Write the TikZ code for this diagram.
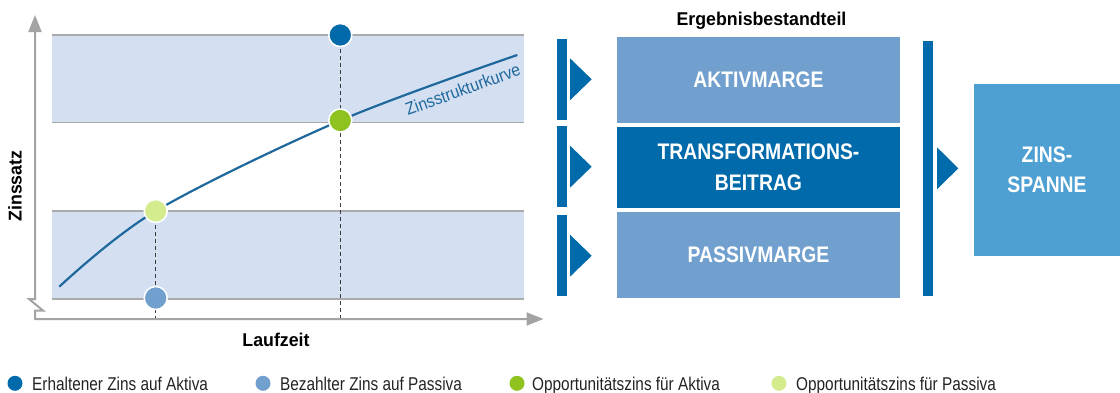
\documentclass[tikz,border=0pt]{standalone}
\usepackage{fontspec}
\setmainfont{Liberation Sans}
\newfontfamily\condfont[FakeStretch=0.83]{Liberation Sans}
\newfontfamily\labelfont[FakeStretch=0.96]{Liberation Sans}
\newfontfamily\boxfont[FakeStretch=0.86]{Liberation Sans}
\newfontfamily\curvefont[FakeStretch=0.9]{Liberation Sans}
\usetikzlibrary{arrows.meta}

\definecolor{darkblue}{RGB}{0,106,170}
\definecolor{midblue}{RGB}{114,160,206}
\definecolor{zinsblue}{RGB}{77,160,209}
\definecolor{oppgreen}{RGB}{141,194,31}
\definecolor{lightgreen}{RGB}{212,236,142}
\definecolor{bandfill}{RGB}{212,224,242}
\definecolor{curveblue}{RGB}{31,104,156}
\definecolor{axisgray}{RGB}{163,163,163}
\definecolor{bandline}{RGB}{170,170,170}
\definecolor{dashgray}{RGB}{60,60,60}
\definecolor{legendtext}{RGB}{35,35,35}

\begin{document}
\begin{tikzpicture}[x=1pt,y=-1pt,
  band/.style={fill=bandfill},
  bandrule/.style={draw=bandline,line width=1.5pt},
  axis/.style={draw=axisgray,line width=2pt,line join=miter,
    {Triangle[length=17pt,width=13pt]}-{Triangle[length=17pt,width=13pt]}},
  dashline/.style={draw=dashgray,line width=1.2pt,dash pattern=on 4pt off 3pt},
  curve/.style={draw=curveblue,line width=2.2pt},
  dot/.style={circle,draw=white,line width=1.5pt,minimum size=23pt,inner sep=0pt},
  legdot/.style={circle,minimum size=15pt,inner sep=0pt},
  legtext/.style={anchor=base west,text=legendtext,inner sep=0pt,
    font=\condfont\fontsize{18.5}{20}\selectfont},
  axlabel/.style={inner sep=0pt,font=\labelfont\bfseries\fontsize{18.5}{20}\selectfont},
  box/.style={rectangle,inner sep=0pt,text=white,align=center,
    font=\boxfont\bfseries\fontsize{22.5}{31.6}\selectfont},
  bluebar/.style={fill=darkblue},
  pointer/.style={fill=darkblue}]

\useasboundingbox (0,0) rectangle (1120,392);

% ---------- chart: shaded bands ----------
\fill[band] (52,35) rectangle (523.7,122.7);
\fill[band] (52,211) rectangle (523.7,299);
\draw[bandrule] (52,35) -- (523.7,35);
\draw[bandrule] (52,122.7) -- (523.7,122.7);
\draw[bandrule] (52,211) -- (523.7,211);
\draw[bandrule] (52,299) -- (523.7,299);

% ---------- reference points ----------
\coordinate (o) at (35,319);
\coordinate (ytip) at (35,15);
\coordinate (xtip) at (543.5,319);
\coordinate (pA) at (340.3,35);
\coordinate (pG) at (340.3,120.5);
\coordinate (pL) at (155.7,211);
\coordinate (pP) at (155.7,298);
\coordinate (c0) at (59.3,286.7);
\coordinate (c1) at (517.3,55);

% dashed drop lines to the time axis
\draw[dashline] (pA) -- (pA |- o);
\draw[dashline] (pL) -- (pL |- o);

% axes with the break mark on the rate axis
\draw[axis] (ytip) -- (35,299) -- (29,299) -- (43,310.5) -- (35,310.5) -- (o) -- (xtip);

% yield curve
\draw[curve] plot[smooth,tension=0.55] coordinates {(c0) (pL) (pG) (c1)};
\node[anchor=base west,rotate=20,inner sep=0pt,text=curveblue,
  font=\curvefont\fontsize{17.5}{20}\selectfont] (lbl) at (408,116) {Zinsstrukturkurve};

% rate points
\node[dot,fill=darkblue] (dA) at (pA) {};
\node[dot,fill=oppgreen] (dG) at (pG) {};
\node[dot,fill=lightgreen] (dL) at (pL) {};
\node[dot,fill=midblue] (dP) at (pP) {};

% axis titles
\node[axlabel] (zinssatz) at (15,186) [rotate=90] {Zinssatz};
\node[axlabel,anchor=base] (laufzeit) at (276,346) {Laufzeit};

% ---------- result components ----------
\node[axlabel,anchor=base,text=black] (title) at (761.5,25) {Ergebnisbestandteil};

\fill[bluebar] (557,39) rectangle (566.7,120);
\fill[bluebar] (557,126) rectangle (566.7,206.7);
\fill[bluebar] (557,215) rectangle (566.7,295.7);
\fill[pointer] (570,58.3) -- (591.7,79.3) -- (570,100.3) -- cycle;
\fill[pointer] (570,145.7) -- (591.7,166.7) -- (570,187.7) -- cycle;
\fill[pointer] (570,234.7) -- (591.7,255.7) -- (570,276.7) -- cycle;

\node[box,fill=midblue,minimum width=283pt,minimum height=85.7pt] (aktiv) at (758.5,79.85) {AKTIVMARGE};
\node[box,fill=darkblue,minimum width=283pt,minimum height=80.7pt] (trans) at (758.5,167.35) {TRANSFORMATIONS-\\BEITRAG};
\node[box,fill=midblue,minimum width=283pt,minimum height=86.3pt] (passiv) at (758.5,254.85) {PASSIVMARGE};

\fill[bluebar] (923,41) rectangle (933,295.7);
\fill[pointer] (937,147.3) -- (958.3,168.3) -- (937,189.3) -- cycle;

\node[box,fill=zinsblue,minimum width=146pt,minimum height=171.7pt,
  font=\boxfont\bfseries\fontsize{22.5}{30.5}\selectfont] (zins) at (1047,169.85) {ZINS-\\SPANNE};

% ---------- legend ----------
\node[legdot,fill=darkblue] (l1) at (15,383.3) {};
\node[legtext] (t1) at (32,390) {Erhaltener Zins auf Aktiva};
\node[legdot,fill=midblue] (l2) at (263,383.3) {};
\node[legtext] (t2) at (280,390) {Bezahlter Zins auf Passiva};
\node[legdot,fill=oppgreen] (l3) at (517,383.3) {};
\node[legtext] (t3) at (532,390) {Opportunitätszins für Aktiva};
\node[legdot,fill=lightgreen] (l4) at (779,383.3) {};
\node[legtext] (t4) at (796,390) {Opportunitätszins für Passiva};
\end{tikzpicture}
\end{document}
